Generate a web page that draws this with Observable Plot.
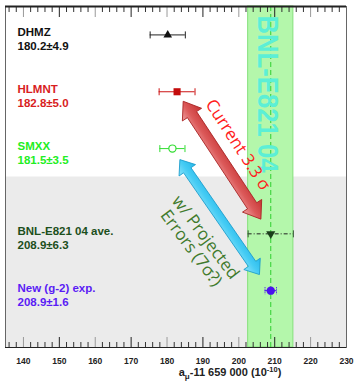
<!DOCTYPE html>
<html><head><meta charset="utf-8">
<script src="https://cdn.jsdelivr.net/npm/d3@7"></script>
<script src="https://cdn.jsdelivr.net/npm/@observablehq/plot@0.6"></script>
<style>body{margin:0;background:#fff}#chart{width:355px;height:382px}</style>
</head><body><div id="chart"></div>
<script>
// ---- data ----
const names = ["DHMZ", "HLMNT", "SMXX", "BNL-E821 04 ave.", "New (g-2) exp."];
const values = [180.2, 182.8, 181.5, 208.9, 208.9];
const errors = [4.9, 5.0, 3.5, 6.3, 1.6];
const rows = [4.5, 3.5, 2.5, 1, 0];
const yDomain = [-1, 5];
const experimentTop = 2;
const xDomain = [135, 230];
const xTicks = d3.range(140, 231, 10);
const minorTicks = d3.range(136, 231, 2).filter(d => d % 10 !== 0);
const bandLabel = "BNL-E821 04";
const xLabel = "aμ-11 659 000 (10-10)";
const arrowFrom = ["HLMNT", "SMXX"];
const arrowTo = ["BNL-E821 04 ave.", "New (g-2) exp."];
const arrowText = ["Current 3.3 σ", "w/ Projected\nErrors (7σ?)"];

// ---- styles ----
const labelColors = ["#111111", "#d81e1e", "#22ee22", "#1c4f1c", "#5a1cf5"];
const barColors = ["#222222", "#cc1414", "#33dd33", "#222222", "#4a12ee"];
const markerStyles = [
  {symbol: "triangle", fill: "#111", stroke: "none", r: 3.2, rotate: 0},
  {symbol: "square", fill: "#c40c0c", stroke: "none", r: 4, rotate: 0},
  {symbol: "circle", fill: "white", stroke: "#33dd33", r: 3.6, rotate: 0},
  {symbol: "triangle", fill: "#1a3f1a", stroke: "none", r: 3.4, rotate: 180},
  {symbol: "circle", fill: "#4a12ee", stroke: "none", r: 4.2, rotate: 0}
];
const arrowStyles = [
  {w: 5.5, h: 11.5, L: 16, startGap: 12, endGap: 17, stroke: "#a82222",
   stops: [[0, "#c43232"], [0.55, "#dc5a5a"], [1, "#eea0a0"]]},
  {w: 4.5, h: 10, L: 13, startGap: 14, endGap: 19, stroke: "#1b9ccc",
   stops: [[0, "#28b8ea"], [0.5, "#45ccf4"], [1, "#8ae2fa"]]}
];

const data = names.map((name, i) => ({
  name, value: values[i], err: errors[i], row: rows[i], i,
  label: `${name}\n${values[i].toFixed(1)}±${errors[i].toFixed(1)}`
}));
const byName = new Map(data.map(d => [d.name, d]));
const bnl = byName.get("BNL-E821 04 ave.");
const annotations = arrowText.map((text, i) => {
  const f = byName.get(arrowFrom[i]), t = byName.get(arrowTo[i]);
  return {text, x: (f.value + t.value) / 2, y: (f.row + t.row) / 2};
});

const capSymbol = {draw(ctx, size) { const h = Math.sqrt(size / Math.PI); ctx.moveTo(0, -h); ctx.lineTo(0, h); }};

function arrowsMark(index, scales) {
  const g = d3.create("svg:g");
  const defs = g.append("defs");
  arrowFrom.forEach((from, i) => {
    const s = arrowStyles[i];
    const grad = defs.append("linearGradient").attr("id", "arrowGrad" + i)
      .attr("x1", 0).attr("y1", 0).attr("x2", 0).attr("y2", 1);
    s.stops.forEach(([o, c]) => grad.append("stop").attr("offset", o).attr("stop-color", c));
    const f = byName.get(from), t = byName.get(arrowTo[i]);
    const x0 = scales.x(f.value), y0 = scales.y(f.row), x1 = scales.x(t.value), y1 = scales.y(t.row);
    const ang = Math.atan2(y1 - y0, x1 - x0);
    const len = Math.hypot(x1 - x0, y1 - y0) - s.startGap - s.endGap;
    const {w, h, L} = s;
    const pts = [[0,0],[L,-h],[L,-w],[len-L,-w],[len-L,-h],[len,0],[len-L,h],[len-L,w],[L,w],[L,h]];
    g.append("path").attr("d", "M" + pts.map(p => p.join(",")).join("L") + "Z")
      .attr("transform", `translate(${x0 + Math.cos(ang) * s.startGap},${y0 + Math.sin(ang) * s.startGap}) rotate(${ang * 180 / Math.PI})`)
      .attr("fill", `url(#arrowGrad${i})`).attr("stroke", s.stroke).attr("stroke-width", 0.8);
  });
  return g.node();
}

const marks = [
  Plot.rect([{}], {y1: () => yDomain[0], y2: () => experimentTop, fill: "#ebebeb"}),
  Plot.rect([bnl], {x1: d => d.value - d.err, x2: d => d.value + d.err, fill: "#b4f7ab", stroke: "#86e07c", strokeWidth: 1}),
  Plot.ruleX([bnl], {x: "value", stroke: "#2fcf2f", strokeDasharray: "5,3", strokeWidth: 1}),
  Plot.text([bnl], {x: "value", frameAnchor: "top", text: () => bandLabel, rotate: 90, textAnchor: "start",
    dx: 9, dy: 9, fontSize: 30, fontWeight: "bold", fill: "#5cefd6", fontFamily: "Liberation Sans, Arial, sans-serif"}),
  arrowsMark,
  Plot.text([annotations[0]], {x: "x", y: "y", text: "text", rotate: 57, dx: 14, dy: -18,
    fontSize: 17, fill: "#ff1c1c", fontFamily: "Open Sans, sans-serif"}),
  Plot.text([annotations[1]], {x: "x", y: "y", text: "text", rotate: 53, dx: -23, dy: 23,
    fontSize: 17, lineHeight: 1.05, fill: "#3f7a2c", fontFamily: "Open Sans, sans-serif"}),
];

data.forEach((d, i) => {
  const bs = {stroke: barColors[i], strokeWidth: 1};
  if (i === 3) bs.strokeDasharray = "4,2,1,2";
  marks.push(Plot.ruleY([d], {x1: e => e.value - e.err, x2: e => e.value + e.err, y: "row", ...bs}));
  const capStroke = i === 3 ? "#3a5a3a" : barColors[i];
  marks.push(Plot.dot([d, d], {x: (e, j) => j === 0 ? e.value - e.err : e.value + e.err, y: "row",
    symbol: capSymbol, r: 3.5, stroke: capStroke, strokeWidth: 1, strokeDasharray: i === 4 ? "1.2,1" : null}));
  const m = markerStyles[i];
  marks.push(Plot.dot([d], {x: "value", y: "row", symbol: m.symbol, r: m.r, fill: m.fill, stroke: m.stroke,
    strokeWidth: 1.2, rotate: m.rotate}));
});

marks.push(
  Plot.text(data, {frameAnchor: "left", y: "row", text: "label", textAnchor: "start", dx: 12, dy: 4,
    fill: (d, i) => labelColors[i], fontWeight: "bold", fontSize: 11.5, lineHeight: 1.18,
    fontFamily: "Liberation Sans, Arial, sans-serif"}),
  // ticks
  Plot.axisX({anchor: "bottom", ticks: minorTicks, tickSize: 5, dy: -5, tickFormat: () => "", label: null, stroke: "#333"}),
  Plot.axisX({anchor: "bottom", ticks: xTicks.filter(v => v % 20 === 0), tickSize: 10, dy: -10, tickFormat: () => "", label: null, stroke: "#9a9a9a"}),
  Plot.axisX({anchor: "bottom", ticks: xTicks.filter(v => v % 20 !== 0), tickSize: 10, dy: -10, tickFormat: () => "", label: null, stroke: "#222"}),
  Plot.axisX({anchor: "top", ticks: minorTicks, tickSize: 5, dy: 5, tickFormat: () => "", label: null, stroke: "#333"}),
  Plot.axisX({anchor: "top", ticks: xTicks.filter(v => v % 20 === 0), tickSize: 10, dy: 10, tickFormat: () => "", label: null, stroke: "#9a9a9a"}),
  Plot.axisX({anchor: "top", ticks: xTicks.filter(v => v % 20 !== 0), tickSize: 10, dy: 10, tickFormat: () => "", label: null, stroke: "#222"}),
  Plot.axisX({anchor: "bottom", ticks: xTicks, tickSize: 0, tickPadding: 10, label: null, fontSize: 8.5,
    fontWeight: "bold", fill: "#222", tickFormat: d => String(d)}),
  Plot.frame({stroke: "#666", strokeWidth: 1}),
  Plot.ruleY([yDomain[1]], {stroke: "#222", strokeWidth: 2}),
  Plot.ruleY([yDomain[0]], {stroke: "#222", strokeWidth: 1}),
  Plot.text([xLabel], {frameAnchor: "bottom", text: d => d, dx: 54, dy: 28, fontSize: 11, fontWeight: "bold",
    fill: "#222", fontFamily: "Liberation Sans, Arial, sans-serif"})
);

const chart = Plot.plot({
  width: 355, height: 382,
  marginLeft: 5, marginRight: 9, marginTop: 6, marginBottom: 35,
  x: {domain: xDomain, axis: null},
  y: {domain: yDomain, axis: null},
  style: {fontFamily: "Liberation Sans, Arial, sans-serif", background: "white"},
  marks
});

// typographic details: condensed band label, sub/superscripts in the axis title
d3.select(chart).selectAll("text").each(function() {
  if (this.textContent === bandLabel) {
    d3.select(this).attr("textLength", 157).attr("lengthAdjust", "spacingAndGlyphs");
  } else if (this.textContent === xLabel) {
    const t = d3.select(this); t.text(null);
    t.append("tspan").text("a");
    t.append("tspan").attr("dy", 3).attr("font-size", 8).text("μ");
    t.append("tspan").attr("dy", -3).text("-11 659 000 (10");
    t.append("tspan").attr("dy", -4).attr("font-size", 7.5).text("-10");
    t.append("tspan").attr("dy", 4).text(")");
  }
});
document.getElementById("chart").append(chart);
</script></body></html>
